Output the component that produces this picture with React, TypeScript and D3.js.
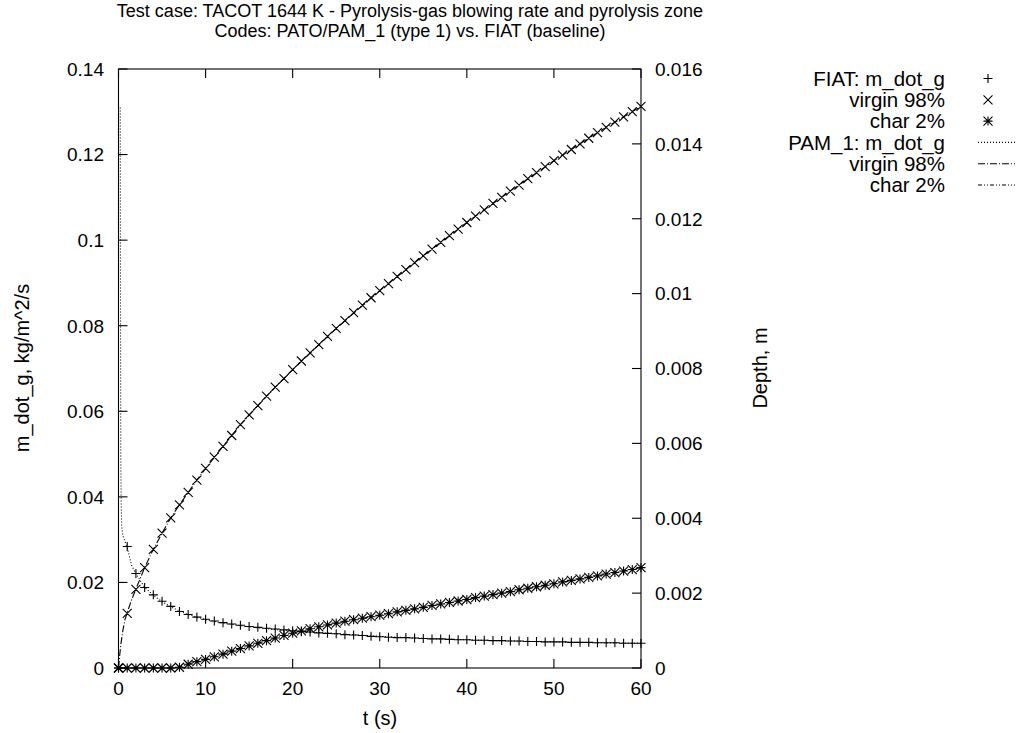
import React from "react";
import * as d3 from "d3";

// ---- data ----
const fiatTime: number[] = d3.range(0, 61);
const fiatMdot: number[] = [
  0, 0.0284, 0.0221, 0.0188, 0.0171, 0.0156, 0.0144, 0.0132, 0.0125, 0.0119, 0.0114,
  0.0110, 0.0106, 0.0103, 0.0100, 0.0097, 0.0095, 0.0093, 0.0091, 0.0089, 0.0087,
  0.0085, 0.0084, 0.0082, 0.0081, 0.0080, 0.0078, 0.0077, 0.0076, 0.0074, 0.0073,
  0.0072, 0.0071, 0.0071, 0.0070, 0.0069, 0.0068, 0.0068, 0.0067, 0.0066, 0.0066,
  0.0065, 0.0065, 0.0064, 0.0064, 0.0063, 0.0063, 0.0062, 0.0062, 0.0061, 0.0061,
  0.0061, 0.0060, 0.0060, 0.0060, 0.0059, 0.0059, 0.0059, 0.0058, 0.0058, 0.0058,
];
const fiatVirgin: number[] = [
  0, 0.00146, 0.00210, 0.00268, 0.00317, 0.00360, 0.00401, 0.00436, 0.00469, 0.00502, 0.00533,
  0.00563, 0.00592, 0.00621, 0.00650, 0.00676, 0.00701, 0.00726, 0.00750, 0.00773, 0.00797,
  0.00820, 0.00842, 0.00864, 0.00886, 0.00907, 0.00928, 0.00949, 0.00969, 0.00989, 0.01008,
  0.01027, 0.01046, 0.01064, 0.01083, 0.01101, 0.01119, 0.01137, 0.01155, 0.01172, 0.01190,
  0.01207, 0.01224, 0.01241, 0.01257, 0.01274, 0.01290, 0.01307, 0.01323, 0.01339, 0.01355,
  0.01370, 0.01385, 0.01400, 0.01415, 0.01430, 0.01444, 0.01458, 0.01472, 0.01486, 0.01500,
];
const fiatChar: number[] = [
  0, 0, 0, 0, 0, 0, 0, 0.00002, 0.00010, 0.00017, 0.00023,
  0.00030, 0.00037, 0.00045, 0.00052, 0.00059, 0.00066, 0.00073, 0.00080, 0.00087, 0.00093,
  0.00099, 0.00105, 0.00110, 0.00115, 0.00120, 0.00125, 0.00129, 0.00133, 0.00137, 0.00141,
  0.00145, 0.00150, 0.00154, 0.00158, 0.00162, 0.00167, 0.00171, 0.00175, 0.00179, 0.00183,
  0.00188, 0.00192, 0.00196, 0.00200, 0.00204, 0.00209, 0.00213, 0.00217, 0.00221, 0.00225,
  0.00230, 0.00234, 0.00238, 0.00242, 0.00246, 0.00251, 0.00255, 0.00259, 0.00263, 0.00268,
];

const pamMdotTime: number[] = [0.2, 0.22, 0.24, 0.26, 0.3, 0.37, 0.5, 0.7, 1, 1.5, 2, 3, 4, 5, 6, 7, 8, 9, 10, 12, 14, 16, 18, 20, 25, 30, 35, 40, 45, 50, 55, 60];
const pamMdot: number[] = [0.131, 0.100, 0.070, 0.050, 0.040, 0.033, 0.031, 0.0298, 0.0282, 0.0240, 0.0220, 0.0189, 0.0170, 0.0155, 0.0143, 0.0133, 0.0125, 0.0119, 0.0113, 0.0105, 0.0099, 0.0094, 0.0090, 0.0087, 0.0080, 0.0074, 0.0069, 0.0066, 0.0063, 0.0061, 0.0059, 0.0058];

const pamTime: number[] = [0, 0.25, 0.5, 0.75, 1, 1.5, 2, 3, 4, 5, 6, 7, 8, 9, 10, 12, 14, 16, 18, 20, 25, 30, 35, 40, 45, 50, 55, 60];
const pamVirgin: number[] = [0, 0.0006, 0.0010, 0.0013, 0.00148, 0.00182, 0.00211, 0.00268, 0.00317, 0.00360, 0.00401, 0.00436, 0.00469, 0.00502, 0.00533, 0.00592, 0.00650, 0.00701, 0.00750, 0.00797, 0.00907, 0.01008, 0.01101, 0.01190, 0.01274, 0.01355, 0.01430, 0.01500];
const pamChar: number[] = [0, 0, 0, 0, 0, 0, 0, 0, 0, 0, 0, 0.00003, 0.00010, 0.00017, 0.00023, 0.00037, 0.00052, 0.00066, 0.00080, 0.00093, 0.00120, 0.00141, 0.00162, 0.00183, 0.00204, 0.00225, 0.00246, 0.00268];

const xTicks: number[] = [0, 10, 20, 30, 40, 50, 60];
const yLeftTicks: number[] = [0, 0.02, 0.04, 0.06, 0.08, 0.1, 0.12, 0.14];
const yRightTicks: number[] = [0, 0.002, 0.004, 0.006, 0.008, 0.01, 0.012, 0.014, 0.016];

const titleLines: string[] = [
  "Test case: TACOT 1644 K - Pyrolysis-gas blowing rate and pyrolysis zone",
  "Codes: PATO/PAM_1 (type 1) vs. FIAT (baseline)",
];
const legendLabels: string[] = ["FIAT: m_dot_g", "virgin 98%", "char 2%", "PAM_1: m_dot_g", "virgin 98%", "char 2%"];

// ---- layout ----
const W = 1020, H = 733;
const L = 118.5, R = 641, T = 69, B = 668;
const FONT = "'Liberation Sans', Arial, sans-serif";
const FS = 18;
const TICK_FS = 19;
const LAB_FS = 20;
const LEG_FS = 20.5;

const x = d3.scaleLinear().domain([0, 60]).range([L, R]);
const yL = d3.scaleLinear().domain([0, 0.14]).range([B, T]);
const yR = d3.scaleLinear().domain([0, 0.016]).range([B, T]);

const S = 4.5;
function plus(cx: number, cy: number) {
  return `M${cx - S},${cy}H${cx + S}M${cx},${cy - S}V${cy + S}`;
}
function cross(cx: number, cy: number) {
  return `M${cx - S},${cy - S}L${cx + S},${cy + S}M${cx - S},${cy + S}L${cx + S},${cy - S}`;
}
function star(cx: number, cy: number) {
  return plus(cx, cy) + cross(cx, cy);
}

function lineOf(ts: number[], vs: number[], y: d3.ScaleLinear<number, number>) {
  return d3.line<number>().x((_, i) => x(ts[i])).y((v) => y(v))(vs) || "";
}

const DOT = "1,2";
const DASHDOT = "7,2,1,2";
const DASHDOTDOT = "4,2,1,2,1,2";

export default function App() {
  const plusPath = fiatMdot.map((v, i) => plus(x(fiatTime[i]), yL(v))).join("");
  const crossPath = fiatVirgin.map((v, i) => cross(x(fiatTime[i]), yR(v))).join("");
  const starPath = fiatChar.map((v, i) => star(x(fiatTime[i]), yR(v))).join("");

  const legX = 945;
  const legY0 = 78.5;
  const legDy = 21.3;
  const legMarkX = 988;
  const legL1 = 978, legL2 = 1015;

  return (
    <svg width={W} height={H} style={{ position: "absolute", left: 0, top: 0, background: "#fff" }} fontFamily={FONT} fontSize={FS}>
      <rect x={0} y={0} width={W} height={H} fill="#fff" />
      {titleLines.map((t, i) => (
        <text key={i} x={410} y={16.5 + i * 20} textAnchor="middle" fill="#000">{t}</text>
      ))}

      {/* data */}
      <g fill="none" stroke="#000" strokeWidth={1.1}>
        <path d={lineOf(pamMdotTime, pamMdot, yL)} strokeDasharray={DOT} />
        <path d={lineOf(pamTime, pamVirgin, yR)} strokeDasharray={DASHDOT} />
        <path d={lineOf(pamTime, pamChar, yR)} strokeDasharray={DASHDOTDOT} />
        <path d={plusPath} />
        <path d={crossPath} />
        <path d={starPath} />
      </g>

      {/* frame and ticks */}
      <g stroke="#000" strokeWidth={1.1} fill="none">
        <rect x={L} y={T} width={R - L} height={B - T} />
        {xTicks.map((t) => (
          <g key={"xt" + t}>
            <line x1={x(t)} x2={x(t)} y1={B} y2={B - 9} />
            <line x1={x(t)} x2={x(t)} y1={T} y2={T + 9} />
          </g>
        ))}
        {yLeftTicks.map((t) => (
          <line key={"yl" + t} x1={L} x2={L + 9} y1={yL(t)} y2={yL(t)} />
        ))}
        {yRightTicks.map((t) => (
          <line key={"yr" + t} x1={R} x2={R - 9} y1={yR(t)} y2={yR(t)} />
        ))}
      </g>
      <g fill="#000">
        {xTicks.map((t) => (
          <text key={"xl" + t} x={x(t)} y={695} textAnchor="middle" fontSize={TICK_FS}>{String(t)}</text>
        ))}
        {yLeftTicks.map((t) => (
          <text key={"yll" + t} x={104} y={yL(t) + 6.8} textAnchor="end" fontSize={TICK_FS}>{String(t)}</text>
        ))}
        {yRightTicks.map((t) => (
          <text key={"yrl" + t} x={655} y={yR(t) + 6.8} textAnchor="start" fontSize={TICK_FS}>{String(t)}</text>
        ))}
        <text x={380} y={725} textAnchor="middle" fontSize={LAB_FS}>t (s)</text>
        <text transform={`translate(29,368) rotate(-90)`} textAnchor="middle" fontSize={LAB_FS}>m_dot_g, kg/m^2/s</text>
        <text transform={`translate(767,368) rotate(-90)`} textAnchor="middle" fontSize={LAB_FS}>Depth, m</text>
      </g>

      {/* legend */}
      <g>
        {legendLabels.map((lab, i) => (
          <text key={"lg" + i} x={legX} y={legY0 + i * legDy + 7.3} textAnchor="end" fill="#000" fontSize={LEG_FS}>{lab}</text>
        ))}
        <g fill="none" stroke="#000" strokeWidth={1.1}>
          <path d={plus(legMarkX, legY0)} />
          <path d={cross(legMarkX, legY0 + legDy)} />
          <path d={star(legMarkX, legY0 + 2 * legDy)} />
          <line x1={legL1} x2={legL2} y1={legY0 + 3 * legDy} y2={legY0 + 3 * legDy} strokeDasharray={DOT} />
          <line x1={legL1} x2={legL2} y1={legY0 + 4 * legDy} y2={legY0 + 4 * legDy} strokeDasharray={DASHDOT} />
          <line x1={legL1} x2={legL2} y1={legY0 + 5 * legDy} y2={legY0 + 5 * legDy} strokeDasharray={DASHDOTDOT} />
        </g>
      </g>
    </svg>
  );
}
